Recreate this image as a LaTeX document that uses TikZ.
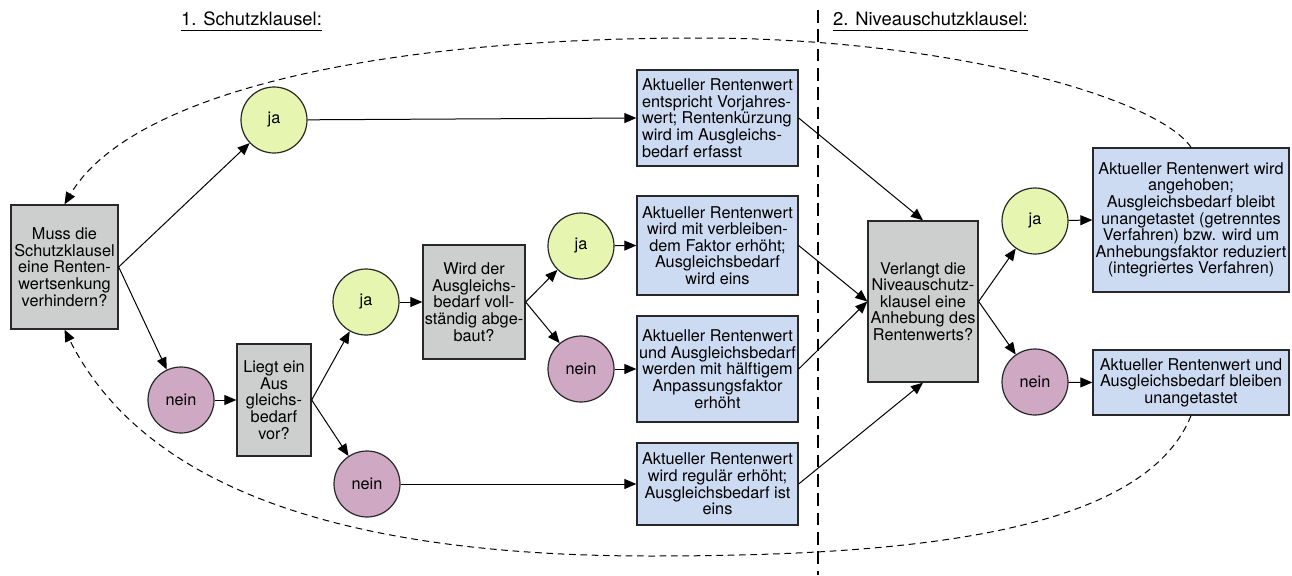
\documentclass[tikz,border=0pt]{standalone}
\usepackage{fontspec}
\setmainfont{TeX Gyre Heros}
\usetikzlibrary{arrows.meta}

\definecolor{kastengrau}{RGB}{205,207,206}
\definecolor{kastenblau}{RGB}{205,219,242}
\definecolor{jagruen}{RGB}{230,245,175}
\definecolor{neinlila}{RGB}{207,168,196}
\definecolor{randfarbe}{RGB}{40,40,40}

\newcommand{\kastenschrift}{\fontsize{12.2}{12.45}\selectfont}
\newcommand{\titelschrift}{\fontsize{13.8}{16}\selectfont}

\tikzset{every picture/.style={line width=0.75pt},
  frage/.style={draw=randfarbe, line width=1pt, fill=kastengrau, align=center, font=\kastenschrift, inner sep=1pt},
  ergebnis/.style={draw=randfarbe, line width=1pt, fill=kastenblau, align=center, font=\kastenschrift, inner sep=1pt, minimum width=120.75pt},
  jakreis/.style={circle, draw=randfarbe, line width=0.9pt, fill=jagruen, minimum size=49.5pt, inner sep=0pt, font=\kastenschrift},
  neinkreis/.style={circle, draw=randfarbe, line width=0.9pt, fill=neinlila, minimum size=49.5pt, inner sep=0pt, font=\kastenschrift},
  pfeil/.style={-{Triangle[length=9pt,width=7.5pt]}, line width=0.75pt},
  schleife/.style={dash pattern=on 5pt off 3.5pt, line width=0.75pt},
  trenn/.style={dash pattern=on 9.5pt off 5pt, line width=2.2pt},
  titel/.style={font=\titelschrift, inner xsep=0pt, inner ysep=3.5pt}
}

\begin{document}
\begin{tikzpicture}[x=0.75pt,y=0.75pt,yscale=-1,xscale=1]
\useasboundingbox (0,0) rectangle (1292,575);

%Straight Lines: divider
\draw [trenn] (818,10) -- (818,575) ;

% Text Node
\draw (251.5,25) node [titel, anchor=base] (t1) {1. Schutzklausel:};
\draw [line width=1.1pt] (t1.south west) -- (t1.south east) ;
% Text Node
\draw (930.5,25) node [titel, anchor=base] (t2) {2. Niveauschutzklausel:};
\draw [line width=1.1pt] (t2.south west) -- (t2.south east) ;

%Shape: Rectangle (questions)
\draw (64.5,267) node [frage, minimum width=80.25pt, minimum height=93pt] (q1) {Muss die\\Schutzklausel\\eine Renten-\\wertsenkung\\verhindern?};
\draw (274,400) node [frage, minimum width=55.5pt, minimum height=84pt] (q2) {Liegt ein\\Aus\\gleichs-\\bedarf\\vor?};
\draw (474,302) node [frage, minimum width=76.5pt, minimum height=85.5pt] (q3) {Wird der\\Ausgleichs-\\bedarf voll-\\ständig abge-\\baut?};
\draw (923,301.5) node [frage, minimum width=82.5pt, minimum height=120.75pt] (nv) {Verlangt die\\Niveauschutz-\\klausel eine\\Anhebung des\\Rentenwerts?};

%Shape: Circle (ja / nein)
\draw (274,120) node [jakreis] (ja1) {ja};
\draw (181,400) node [neinkreis] (nein1) {nein};
\draw (366,302) node [jakreis] (ja2) {ja};
\draw (367,484) node [neinkreis] (nein2) {nein};
\draw (581,246) node [jakreis] (ja3) {ja};
\draw (581,369) node [neinkreis] (nein3) {nein};
\draw (1035,221) node [jakreis] (ja4) {ja};
\draw (1035,382) node [neinkreis] (nein4) {nein};

%Shape: Rectangle (results)
\draw (717.5,118) node [ergebnis, align=left, minimum height=72pt] (r1) {Aktueller Rentenwert\\entspricht Vorjahres-\\wert; Rentenkürzung\\wird im Ausgleichs-\\bedarf erfasst};
\draw (717.5,245.5) node [ergebnis, minimum height=74.25pt] (r2) {Aktueller Rentenwert\\wird mit verbleiben-\\dem Faktor erhöht;\\Ausgleichsbedarf\\wird eins};
\draw (717.5,369) node [ergebnis, minimum height=79.5pt] (r3) {Aktueller Rentenwert\\und Ausgleichsbedarf\\werden mit hälftigem\\Anpassungsfaktor\\erhöht};
\draw (717.5,484) node [ergebnis, minimum height=61.5pt] (r4) {Aktueller Rentenwert\\wird regulär erhöht;\\Ausgleichsbedarf ist\\eins};
\draw (1191,220) node [ergebnis, minimum width=147pt, minimum height=108pt] (r5) {Aktueller Rentenwert wird\\angehoben;\\Ausgleichsbedarf bleibt\\unangetastet (getrenntes\\Verfahren) bzw. wird um\\Anhebungsfaktor reduziert\\(integriertes Verfahren)};
\draw (1191,382.5) node [ergebnis, minimum width=147pt, minimum height=48.75pt] (r6) {Aktueller Rentenwert und\\Ausgleichsbedarf bleiben\\unangetastet};

%Straight Lines: Schutzklausel
\draw [pfeil] (q1.east) -- (ja1) ;
\draw [pfeil] (q1.east) -- (nein1) ;
\draw [pfeil] (ja1) -- (r1.west) ;
\draw [pfeil] (nein1) -- (q2.west) ;
\draw [pfeil] (q2.east) -- (ja2) ;
\draw [pfeil] (q2.east) -- (nein2) ;
\draw [pfeil] (ja2) -- (q3.west) ;
\draw [pfeil] (nein2) -- (r4.west) ;
\draw [pfeil] (q3.east) -- (ja3) ;
\draw [pfeil] (q3.east) -- (nein3) ;
\draw [pfeil] (ja3) -- (r2.west) ;
\draw [pfeil] (nein3) -- (r3.west) ;

%Straight Lines: Niveauschutzklausel
\draw [pfeil] (r1.east) -- (nv.north) ;
\draw [pfeil] (r2.east) -- (nv.west) ;
\draw [pfeil] (r3.east) -- (nv.west) ;
\draw [pfeil] (r4.east) -- (nv.south) ;
\draw [pfeil] (nv.east) -- (ja4) ;
\draw [pfeil] (nv.east) -- (nein4) ;
\draw [pfeil] (ja4) -- (r5.west) ;
\draw [pfeil] (nein4) -- (r6.west) ;

%Curve: loop back to the start
\coordinate (oben) at (700,38);
\coordinate (unten) at (650,556);
\draw [schleife, pfeil] (r5.north) .. controls (1158,98) and (950,38) .. (oben) .. controls (350,38) and (126,100) .. (q1.north) ;
\draw [schleife, pfeil] (r6.south) .. controls (1143,536) and (900,556) .. (unten) .. controls (330,556) and (141,482) .. (q1.south) ;

\end{tikzpicture}
\end{document}
